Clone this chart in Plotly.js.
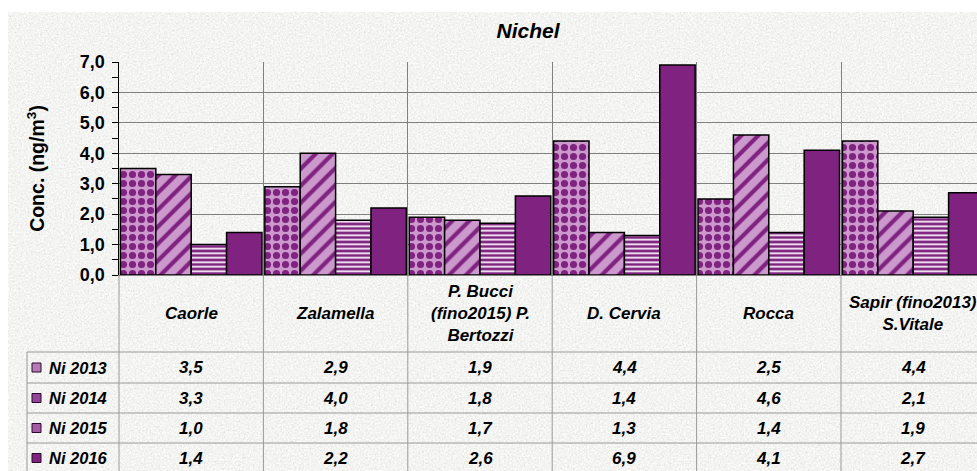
<!DOCTYPE html>
<html>
<head>
<meta charset="utf-8">
<script src="https://cdn.plot.ly/plotly-3.0.1.min.js"></script>
<style>html,body{margin:0;padding:0;overflow:hidden;background:#fff}</style>
</head>
<body>
<div id="chart" style="width:977px;height:471px"></div>
<script>
// ---- data ----
const categories = ['Caorle', 'Zalamella', 'P. Bucci<br>(fino2015) P.<br>Bertozzi', 'D. Cervia', 'Rocca', 'Sapir (fino2013)<br>S.Vitale'];
const seriesNames = ['Ni 2013', 'Ni 2014', 'Ni 2015', 'Ni 2016'];
const ni2013 = [3.5, 2.9, 1.9, 4.4, 2.5, 4.4];
const ni2014 = [3.3, 4.0, 1.8, 1.4, 4.6, 2.1];
const ni2015 = [1.0, 1.8, 1.7, 1.3, 1.4, 1.9];
const ni2016 = [1.4, 2.2, 2.6, 6.9, 4.1, 2.7];
const chartTitle = 'Nichel';
const yTitle = 'Conc. (ng/m<sup>3</sup>)';

// ---- geometry / style ----
const W = 977, H = 471, L = 119, T = 62, B = 196;
const plotW = W - L, plotH = H - T - B;
const catPx = 144.4;
const px = x => (x - L) / plotW;
const py = y => (H - B - y) / plotH;
const FONT = 'Liberation Sans, Arial, sans-serif';
const DARK = '#7f2280', LIGHT = '#cc99cc';
const TABLE = '#9a9a9a';

const seriesValues = [ni2013, ni2014, ni2015, ni2016];
const patterns = [
  {shape: '.', bgcolor: LIGHT, fgcolor: DARK, size: 9, solidity: 0.5},
  {shape: '/', bgcolor: LIGHT, fgcolor: DARK, size: 12, solidity: 0.35},
  {shape: '-', bgcolor: DARK, fgcolor: '#ffffff', size: 4.5, solidity: 0.38},
  {shape: '', bgcolor: DARK, fgcolor: DARK}
];
const swatchFill = ['#b57ab5', '#93459a', '#a35aa5', DARK];

const traces = seriesValues.map((vals, s) => ({
  type: 'bar',
  name: seriesNames[s],
  x: categories,
  y: vals,
  marker: {
    color: DARK,
    pattern: patterns[s].shape ? Object.assign({fillmode: 'replace'}, patterns[s]) : undefined,
    line: {color: '#000', width: 1.5}
  },
  hoverinfo: 'skip'
}));

const fmt = v => v.toFixed(1).replace('.', ',');

const headerMid = 313;
const rowLines = [352, 383, 413, 443, 473];
const rowMids = [367.5, 398, 428, 458];

const annotations = [];
categories.forEach((c, i) => {
  annotations.push({x: c, y: py(headerMid), xref: 'x', yref: 'paper', text: '<b><i>' + c + '</i></b>',
    showarrow: false, align: 'center', xanchor: 'center', yanchor: 'middle',
    font: {family: FONT, size: 17, color: '#000'}});
});
seriesValues.forEach((vals, s) => {
  annotations.push({x: px(47), y: py(rowMids[s]), xref: 'paper', yref: 'paper', text: '<b><i>' + seriesNames[s] + '</i></b>',
    showarrow: false, xanchor: 'left', yanchor: 'middle', font: {family: FONT, size: 16.5, color: '#000'}});
  vals.forEach((v, i) => {
    annotations.push({x: categories[i], y: py(rowMids[s]), xref: 'x', yref: 'paper', text: '<b><i>' + fmt(v) + '</i></b>',
      showarrow: false, xanchor: 'center', yanchor: 'middle', font: {family: FONT, size: 17, color: '#000'}});
  });
});

const shapes = [];
// white border strips
shapes.push({type: 'rect', xref: 'paper', yref: 'paper', x0: px(0), x1: px(W), y0: py(0), y1: py(12), fillcolor: '#fff', line: {width: 0}, layer: 'below'});
shapes.push({type: 'rect', xref: 'paper', yref: 'paper', x0: px(0), x1: px(8), y0: py(0), y1: py(H), fillcolor: '#fff', line: {width: 0}, layer: 'below'});
// table lines
rowLines.forEach(y => shapes.push({type: 'line', xref: 'paper', yref: 'paper', x0: px(27), x1: 1, y0: py(y), y1: py(y), line: {color: TABLE, width: 1}}));
shapes.push({type: 'line', xref: 'paper', yref: 'paper', x0: px(27), x1: px(27), y0: py(352), y1: py(H), line: {color: TABLE, width: 1}});
shapes.push({type: 'line', xref: 'paper', yref: 'paper', x0: 0, x1: 0, y0: py(276), y1: py(H), line: {color: TABLE, width: 1}});
categories.forEach((c, i) => {
  shapes.push({type: 'line', xref: 'x', yref: 'paper', x0: i + 0.5, x1: i + 0.5, y0: py(276), y1: py(H), line: {color: TABLE, width: 1}});
});
// legend swatches
rowMids.forEach((m, s) => shapes.push({type: 'rect', xref: 'paper', yref: 'paper', x0: px(32), x1: px(41), y0: py(m - 4.5), y1: py(m + 4.5),
  fillcolor: swatchFill[s], line: {color: '#2a0a2a', width: 1}}));

// marble-like background texture (SVG turbulence)
const svgBg = "<svg xmlns='http://www.w3.org/2000/svg' width='969' height='459'>" +
  "<filter id='f' x='0' y='0' width='100%' height='100%'><feTurbulence type='fractalNoise' baseFrequency='0.55' numOctaves='3' seed='7'/>" +
  "<feColorMatrix type='matrix' values='0.2 0.2 0.2 0 0.6  0.2 0.2 0.2 0 0.6  0.2 0.2 0.2 0 0.59  0 0 0 0 1'/></filter>" +
  "<rect width='100%' height='100%' filter='url(#f)'/></svg>";
const images = [{
  source: 'data:image/svg+xml;charset=utf-8,' + encodeURIComponent(svgBg),
  xref: 'paper', yref: 'paper', x: px(8), y: py(12), sizex: px(W) - px(8), sizey: py(12) - py(H),
  xanchor: 'left', yanchor: 'top', sizing: 'stretch', layer: 'below'
}];

const layout = {
  width: W, height: H,
  margin: {l: L, r: 0, t: T, b: B, pad: 0},
  paper_bgcolor: '#e4e4e2',
  plot_bgcolor: 'rgba(0,0,0,0)',
  separators: ',.',
  showlegend: false,
  barmode: 'group', bargap: 0.02, bargroupgap: 0,
  title: {text: '<b><i>' + chartTitle + '</i></b>', font: {family: FONT, size: 21, color: '#000'},
    xref: 'paper', x: px(528), xanchor: 'center', yref: 'container', y: 1 - 31 / H, yanchor: 'middle'},
  xaxis: {type: 'category', range: [-0.5, -0.5 + plotW / catPx], showticklabels: false, ticks: '',
    tickson: 'boundaries', showgrid: true, gridcolor: '#808080', gridwidth: 1,
    showline: true, linecolor: '#808080', linewidth: 1, zeroline: false, fixedrange: true},
  yaxis: {range: [0, 7], tick0: 0, dtick: 1, tickformat: '.1f', ticks: 'outside', ticklen: 6,
    tickcolor: '#000', tickwidth: 1, showline: true, linecolor: '#000', linewidth: 1.5,
    showgrid: true, gridcolor: '#808080', gridwidth: 1, zeroline: false, ticklabelstandoff: 3,
    minor: {dtick: 0.5, ticks: 'outside', ticklen: 6, tickcolor: '#000', tickwidth: 1, showgrid: false},
    tickfont: {family: FONT, size: 18, color: '#000', weight: 'bold'},
    title: {text: '<b>' + yTitle + '</b>', font: {family: FONT, size: 19.5, color: '#000'}, standoff: 30},
    fixedrange: true},
  annotations: annotations,
  shapes: shapes,
  images: images
};

Plotly.newPlot('chart', traces, layout, {displayModeBar: false, staticPlot: true});
</script>
</body>
</html>
